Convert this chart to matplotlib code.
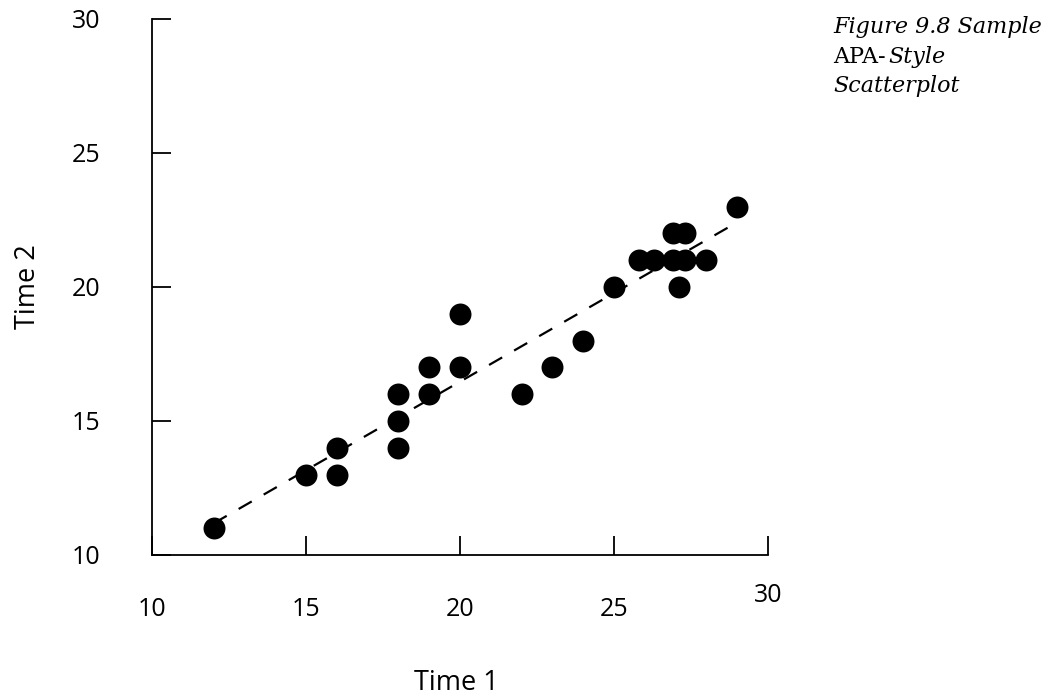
import matplotlib
matplotlib.use("Agg")
import matplotlib.pyplot as plt
import numpy as np

time1 = [12, 15, 16, 16, 18, 18, 18, 19, 19, 20, 20, 22, 23, 24, 25,
         25.8, 26.3, 26.9, 27.3, 26.9, 27.3, 27.1, 28, 29]
time2 = [11, 13, 13, 14, 14, 15, 16, 16, 17, 17, 19, 16, 17, 18, 20,
         21, 21, 22, 22, 21, 21, 20, 21, 23]
xticks = [10, 15, 20, 25, 30]
yticks = [10, 15, 20, 25, 30]
xtick_labels = ["10", "15", "20", "25", "30"]
ytick_labels = ["10", "15", "20", "25", "30"]

plt.rcParams['font.family'] = ['Open Sans', 'DejaVu Sans']

fig = plt.figure(figsize=(10.46, 6.96), dpi=100)
ax = fig.add_axes([152/1046, 1-555/696, (768-152)/1046, (555-19)/696])

ax.scatter(time1, time2, s=250, color='black', zorder=3, linewidths=0)

x = np.array(time1, dtype=float)
y = np.array(time2, dtype=float)
m, b = np.polyfit(x, y, 1)
xl = np.array([min(time1), max(time1)])
ax.plot(xl, m*xl + b, color='black', linestyle=(0, (6.8, 6.2)), linewidth=1.6, zorder=2)

ax.set_xlim(10, 30)
ax.set_ylim(10, 30)
for s in ['top', 'right']:
    ax.spines[s].set_visible(False)
for s in ['left', 'bottom']:
    ax.spines[s].set_linewidth(1.3)

ax.set_xticks(xticks)
ax.set_xticklabels(xtick_labels[:-1] + [""])
ax.set_yticks(yticks)
ax.set_yticklabels(ytick_labels)
ax.tick_params(axis='both', direction='in', length=14, width=1.3, labelsize=18, colors='black')
ax.tick_params(axis='x', pad=30)
ax.tick_params(axis='y', pad=37)
ax.text(30, -0.075, xtick_labels[-1], transform=ax.get_xaxis_transform(),
        ha='center', va='center', fontsize=18)

fig.text(456/1046, 1-683/696, "Time 1", ha='center', va='center', fontsize=19.5)
fig.text(28/1046, 1-287/696, "Time 2", ha='center', va='center', fontsize=19.5, rotation=90)

tf = dict(fontsize=16, family='DejaVu Serif', va='baseline', ha='left')
fig.text(833/1046, 1-33/696, "Figure 9.8 Sample", style='italic', **tf)
t = fig.text(833/1046, 1-63/696, "APA-", **tf)
fig.canvas.draw()
bb = t.get_window_extent()
fig.text((bb.x1 + 3)/1046, 1-63/696, "Style", style='italic', **tf)
fig.text(833/1046, 1-92/696, "Scatterplot", style='italic', **tf)

fig.savefig("out.png", dpi=100, facecolor='white')
